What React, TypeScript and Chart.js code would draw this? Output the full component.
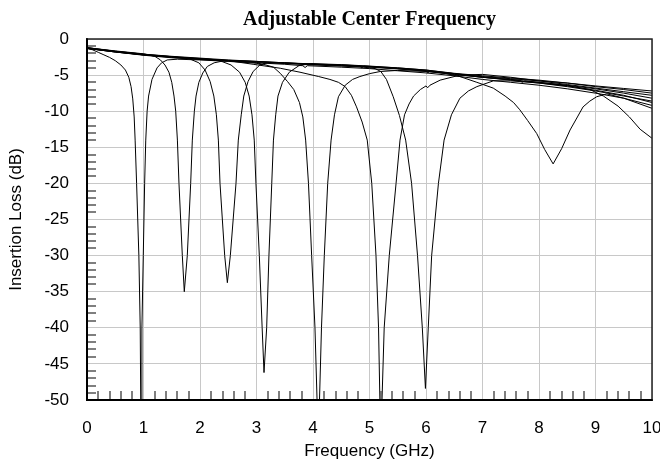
import React, { useEffect, useRef } from "react";
import { Chart, registerables } from "chart.js";

Chart.register(...registerables);

// ---- Text ----
const chartTitle = "Adjustable Center Frequency";
const xAxisTitle = "Frequency (GHz)";
const yAxisTitle = "Insertion Loss (dB)";

// ---- Axes ----
const xMin = 0;
const xMax = 10;
const xStep = 1;
const xMinorStep = 0.2;
const yMin = -50;
const yMax = 0;
const yStep = 5;
const yMinorStep = 1;

// ---- Series: [frequency GHz, insertion loss dB] ----
const trace1: [number, number][] = [
  [0, -1.3], [0.1, -1.5], [0.2, -1.85], [0.3, -2.2], [0.4, -2.55], [0.5, -3.0], [0.6, -3.6],
  [0.68, -4.3], [0.74, -5.3], [0.78, -6.6], [0.81, -8.3], [0.835, -10.8], [0.852, -14],
  [0.878, -20], [0.918, -30], [0.942, -40], [0.956, -56], [0.972, -40], [0.996, -30],
  [1.02, -20], [1.04, -14], [1.064, -10], [1.09, -7.9], [1.15, -5.6], [1.24, -4.0],
  [1.32, -3.3], [1.42, -2.9], [1.6, -2.8], [2, -2.9], [2.5, -3.1], [3, -3.35], [3.09, -3.6],
  [3.13, -3.35], [3.5, -3.5], [3.82, -3.7], [3.86, -3.95], [3.9, -3.7], [4.5, -3.9], [5, -4.1],
  [5.5, -4.4], [6, -4.7], [6.5, -5.1], [7, -5.6], [7.5, -6.0], [8, -6.4], [8.5, -6.9],
  [9, -7.5], [9.5, -8.2], [10, -9.2],
];

const trace2: [number, number][] = [
  [0, -1.2], [0.5, -1.65], [1, -2.05], [1.2, -2.4], [1.3, -2.9], [1.38, -3.6], [1.45, -4.6],
  [1.5, -6.0], [1.54, -7.9], [1.57, -10], [1.6, -14], [1.628, -20], [1.687, -30],
  [1.722, -35], [1.775, -30], [1.835, -20], [1.864, -14], [1.9, -10], [1.93, -7.9],
  [1.98, -6.0], [2.05, -4.7], [2.13, -3.8], [2.25, -3.3], [2.4, -3.05], [2.7, -3.0],
  [3, -3.1], [3.5, -3.3], [4, -3.5], [4.5, -3.6], [4.83, -3.7], [4.86, -4.0], [4.9, -3.75],
  [5.5, -4.0], [6, -4.3], [6.5, -4.8], [7, -5.3], [7.5, -5.6], [7.66, -5.7], [7.7, -6.0],
  [7.75, -5.8], [8, -6.0], [8.5, -6.4], [9, -6.9], [9.5, -7.5], [10, -8.2],
];

const trace3: [number, number][] = [
  [0, -1.3], [0.5, -1.75], [1, -2.15], [1.5, -2.45], [1.8, -2.7], [1.98, -3.3], [2.09, -4.3],
  [2.18, -5.9], [2.245, -7.9], [2.29, -10.5], [2.325, -14], [2.354, -20], [2.437, -30],
  [2.484, -33.75], [2.537, -30], [2.637, -20], [2.678, -14], [2.73, -10.5], [2.775, -7.9],
  [2.85, -5.9], [2.94, -4.5], [3.06, -3.6], [3.2, -3.25], [3.5, -3.3], [4, -3.45],
  [4.5, -3.6], [5, -3.8], [5.5, -4.1], [6, -4.4], [6.03, -4.7], [6.07, -4.45], [6.5, -4.8],
  [7, -5.2], [7.5, -5.5], [8, -5.8], [8.5, -6.1], [9, -6.5], [9.5, -6.85], [10, -7.2],
];

const trace4: [number, number][] = [
  [0, -1.25], [0.5, -1.75], [1, -2.2], [1.5, -2.5], [2, -2.75], [2.35, -3.0], [2.55, -3.6],
  [2.7, -4.6], [2.8, -6.0], [2.87, -7.9], [2.92, -10.5], [2.96, -14], [2.99, -20],
  [3.05, -30], [3.1, -40], [3.133, -46.2], [3.18, -40], [3.22, -30], [3.27, -20],
  [3.3, -14], [3.34, -10.5], [3.38, -7.9], [3.46, -6.0], [3.58, -4.6], [3.75, -3.7],
  [3.95, -3.4], [4.5, -3.55], [5, -3.75], [5.5, -4.0], [6, -4.3], [6.5, -4.75], [7, -5.1],
  [7.5, -5.4], [8, -5.7], [8.5, -6.1], [9, -6.6], [9.5, -7.0], [10, -7.5],
];

const trace5: [number, number][] = [
  [0, -1.3], [0.5, -1.8], [1, -2.2], [1.5, -2.55], [2, -2.8], [2.5, -3.0], [2.9, -3.2],
  [3.1, -3.45], [3.3, -3.9], [3.42, -4.75], [3.55, -5.9], [3.66, -7.0], [3.76, -8.8],
  [3.82, -10.8], [3.87, -14], [3.92, -20], [3.976, -30], [4.035, -40], [4.094, -56],
  [4.15, -40], [4.2, -30], [4.26, -20], [4.32, -14], [4.38, -10.5], [4.45, -8.0],
  [4.57, -6.4], [4.7, -5.6], [4.83, -5.2], [5.0, -4.8], [5.19, -4.5], [5.5, -4.35],
  [6, -4.5], [6.5, -4.9], [7, -5.3], [7.5, -5.7], [8, -6.1], [8.5, -6.6], [9, -7.2],
  [9.5, -7.9], [10, -8.6],
];

const trace6: [number, number][] = [
  [0, -1.2], [0.5, -1.7], [1, -2.1], [1.5, -2.45], [2, -2.7], [2.5, -3.0], [2.94, -3.5],
  [3.42, -4.05], [3.77, -4.6], [4.1, -5.2], [4.3, -5.6], [4.45, -6.0], [4.57, -6.6],
  [4.68, -7.8], [4.77, -9.4], [4.87, -11.5], [4.96, -14], [5.04, -20], [5.115, -30],
  [5.16, -40], [5.198, -56], [5.26, -40], [5.35, -30], [5.47, -20], [5.54, -14],
  [5.62, -10.5], [5.7, -9.0], [5.78, -7.9], [5.9, -7.0], [6.0, -6.5], [6.03, -6.75],
  [6.07, -6.4], [6.25, -5.7], [6.6, -5.0], [7, -4.9], [7.5, -5.3], [8, -5.8], [8.5, -6.3],
  [9, -6.8], [9.5, -7.3], [10, -7.8],
];

const trace7: [number, number][] = [
  [0, -1.3], [0.5, -1.8], [1, -2.25], [1.5, -2.6], [2, -2.85], [2.5, -3.05], [3, -3.25],
  [3.5, -3.4], [4, -3.6], [4.5, -3.75], [4.9, -3.9], [5.1, -4.1], [5.2, -4.5], [5.3, -5.6],
  [5.42, -8.0], [5.53, -10.6], [5.64, -14], [5.745, -20], [5.85, -30], [5.935, -40],
  [5.99, -48.4], [6.04, -40], [6.1, -30], [6.22, -20], [6.32, -14], [6.45, -10.5],
  [6.6, -8.2], [6.75, -7.2], [6.9, -6.6], [7.19, -5.8], [7.5, -5.8], [8, -6.1], [8.5, -6.5],
  [9, -7.1], [9.5, -7.8], [10, -8.8],
];

const trace8: [number, number][] = [
  [0, -1.2], [0.5, -1.7], [1, -2.1], [1.5, -2.4], [2, -2.65], [2.5, -2.9], [3, -3.1],
  [3.5, -3.3], [4, -3.5], [4.5, -3.65], [5, -3.85], [5.5, -4.1], [6, -4.4], [6.3, -4.7],
  [6.6, -5.2], [6.9, -6.0], [7.19, -6.8], [7.4, -7.9], [7.55, -8.8], [7.66, -9.8],
  [7.8, -11.3], [7.96, -13.1], [8.1, -15.3], [8.25, -17.3], [8.4, -15.2], [8.55, -12.6],
  [8.68, -10.8], [8.78, -9.4], [8.9, -8.6], [9.02, -8.0], [9.2, -7.6], [9.5, -8.2],
  [10, -9.6],
];

const trace9: [number, number][] = [
  [0, -1.3], [0.5, -1.8], [1, -2.2], [1.5, -2.5], [2, -2.75], [2.5, -2.95], [3, -3.15],
  [3.5, -3.35], [4, -3.5], [4.5, -3.7], [5, -3.9], [5.5, -4.15], [6, -4.45], [6.5, -4.9],
  [7, -5.3], [7.5, -5.65], [8, -6.0], [8.5, -6.45], [8.9, -7.0], [9.14, -7.9], [9.4, -9.3],
  [9.6, -10.8], [9.79, -12.5], [10, -13.75],
];

const traces = [trace1, trace2, trace3, trace4, trace5, trace6, trace7, trace8, trace9];

const sansFont = '"Liberation Sans", Arial, Helvetica, sans-serif';
const serifFont = '"Liberation Serif", "Times New Roman", serif';

export default function App() {
  const canvasRef = useRef<HTMLCanvasElement>(null);

  useEffect(() => {
    const canvas = canvasRef.current;
    if (!canvas) return;

    const frameAndMinorTicks = {
      id: "frameAndMinorTicks",
      afterDatasetsDraw(chart: any) {
        const { ctx, chartArea } = chart;
        const xs = chart.scales.x;
        const ys = chart.scales.y;
        ctx.save();
        // minor ticks
        ctx.strokeStyle = "#555";
        ctx.lineWidth = 1.5;
        const tickLen = 9;
        const nx = Math.round((xMax - xMin) / xMinorStep);
        const perMajorX = Math.round(xStep / xMinorStep);
        for (let i = 1; i < nx; i++) {
          if (i % perMajorX === 0) continue;
          const px = Math.round(xs.getPixelForValue(xMin + i * xMinorStep));
          ctx.beginPath();
          ctx.moveTo(px, chartArea.bottom);
          ctx.lineTo(px, chartArea.bottom - tickLen);
          ctx.stroke();
        }
        const ny = Math.round((yMax - yMin) / yMinorStep);
        const perMajorY = Math.round(yStep / yMinorStep);
        for (let i = 1; i < ny; i++) {
          if (i % perMajorY === 0) continue;
          const py = Math.round(ys.getPixelForValue(yMin + i * yMinorStep));
          ctx.beginPath();
          ctx.moveTo(chartArea.left, py);
          ctx.lineTo(chartArea.left + tickLen, py);
          ctx.stroke();
        }
        // frame
        ctx.strokeStyle = "#222";
        ctx.lineWidth = 1.5;
        ctx.strokeRect(chartArea.left, chartArea.top, chartArea.right - chartArea.left, chartArea.bottom - chartArea.top);
        ctx.strokeStyle = "#000";
        ctx.lineWidth = 2;
        ctx.beginPath();
        ctx.moveTo(chartArea.left, chartArea.top);
        ctx.lineTo(chartArea.left, chartArea.bottom);
        ctx.lineTo(chartArea.right, chartArea.bottom);
        ctx.stroke();
        ctx.restore();
      },
    };

    const chart = new Chart(canvas, {
      type: "line",
      data: {
        datasets: traces.map((t, i) => ({
          label: `trace${i + 1}`,
          data: t.map(([x, y]) => ({ x, y })),
          borderColor: "#000",
          borderWidth: 1,
          pointRadius: 0,
          tension: 0,
          fill: false,
        })),
      },
      options: {
        animation: false,
        responsive: false,
        maintainAspectRatio: false,
        layout: { padding: { left: 0, right: 0, top: 0, bottom: 0 } },
        plugins: {
          legend: { display: false },
          tooltip: { enabled: false },
          title: {
            display: true,
            text: chartTitle,
            fullSize: false,
            color: "#000",
            font: { family: serifFont, size: 20, weight: "bold" },
            padding: { top: 8, bottom: 7 },
          },
        },
        scales: {
          x: {
            type: "linear",
            min: xMin,
            max: xMax,
            ticks: {
              stepSize: xStep,
              color: "#000",
              font: { family: sansFont, size: 17 },
              padding: 18,
              maxRotation: 0,
              autoSkip: false,
            },
            grid: { color: "#c8c8c8", lineWidth: 1, drawTicks: false },
            border: { display: true, color: "#000", width: 2 },
            title: {
              display: true,
              text: xAxisTitle,
              color: "#000",
              font: { family: sansFont, size: 17 },
              padding: { top: 0, bottom: 1 },
            },
            afterFit(scale: any) {
              scale.height = 63;
              scale.paddingRight = 8;
            },
          },
          y: {
            type: "linear",
            min: yMin,
            max: yMax,
            ticks: {
              stepSize: yStep,
              color: "#000",
              font: { family: sansFont, size: 17 },
              padding: 18,
              autoSkip: false,
            },
            grid: { color: "#c8c8c8", lineWidth: 1, drawTicks: false },
            border: { display: true, color: "#000", width: 2 },
            title: {
              display: true,
              text: yAxisTitle,
              color: "#000",
              font: { family: sansFont, size: 17 },
              padding: { top: 6, bottom: 0 },
            },
            afterFit(scale: any) {
              scale.width = 87;
            },
          },
        },
      },
      plugins: [frameAndMinorTicks],
    });

    return () => {
      chart.destroy();
    };
  }, []);

  return (
    <div style={{ position: "absolute", left: 0, top: 0, width: 660, height: 463 }}>
      <canvas ref={canvasRef} width={660} height={463} style={{ width: 660, height: 463, display: "block" }} />
    </div>
  );
}
